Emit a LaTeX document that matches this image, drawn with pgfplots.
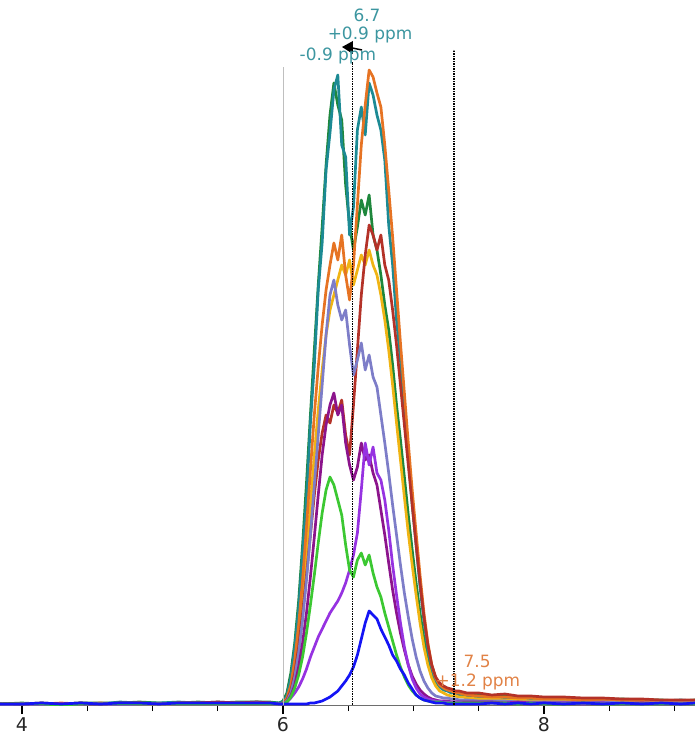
\documentclass[border=0pt]{standalone}
\usepackage{fontspec}
\setmainfont{DejaVu Sans}
\usepackage{pgfplots}
\pgfplotsset{compat=1.18}
\usepackage{pgfplotstable}
\usetikzlibrary{arrows.meta}

\definecolor{cteal}{RGB}{28,138,148}
\definecolor{cgreen}{RGB}{30,135,60}
\definecolor{corange}{RGB}{230,115,35}
\definecolor{cgold}{RGB}{240,180,20}
\definecolor{cred}{RGB}{180,50,40}
\definecolor{cslate}{RGB}{125,125,200}
\definecolor{cpurple}{RGB}{140,20,140}
\definecolor{cviolet}{RGB}{150,50,225}
\definecolor{clime}{RGB}{60,200,50}
\definecolor{cblue}{RGB}{20,20,245}
\definecolor{labteal}{RGB}{60,150,160}
\definecolor{laborange}{RGB}{225,130,70}
\definecolor{axisgray}{RGB}{110,110,110}

% heights in px above the baseline, one column per spectrum
\pgfplotstableread{
x     T   G   O   Y   R   S   P   V   L   B
3.831 1   1   1   0   1   0   1   0   1   1
4.0   1   2   1   1   1   1   0   1   1   1
4.15  2   1   1   0   2   1   1   0   1   2
4.3   1   1   2   1   1   0   1   1   0   1
4.45  2   2   1   1   2   1   1   1   1   2
4.6   1   2   2   1   1   1   0   1   1   1
4.75  3   2   1   1   2   1   1   0   1   2
4.9   2   3   2   1   2   1   1   1   1   2
5.05  2   2   1   0   1   1   1   1   1   1
5.2   3   2   2   1   2   1   1   1   1   2
5.35  2   3   2   1   2   1   1   1   1   2
5.5   3   2   2   1   3   1   1   1   1   2
5.65  2   3   2   1   2   1   1   1   1   2
5.8   3   3   2   1   3   2   1   1   1   2
5.9   2   3   2   1   2   1   1   1   1   2
5.97  2   2   1   1   1   1   1   1   1   1
6.00  3   4   2   1   1   1   1   1   1   1
6.03  9   12  7   5   5   4   3   3   3   1
6.06  27  32  20  15  14  12  9   7   8   1
6.09  58  62  45  35  32  28  20  12  17  1
6.12  96  104 80  65  58  52  38  18  30  1
6.15  152 160 125 105 92  85  62  26  48  1
6.18  205 222 178 150 130 125 92  36  72  1
6.21  282 290 235 200 170 170 128 48  100 2
6.24  340 355 290 250 210 220 168 58  130 2
6.27  415 420 338 295 245 270 210 68  162 3
6.30  462 478 380 335 272 320 250 76  192 4
6.33  535 540 415 370 290 370 280 84  215 6
6.36  572 590 440 395 282 410 300 92  228 8
6.39  615 622 462 410 300 425 312 98  220 11
6.42  630 600 445 425 292 400 290 104 205 14
6.45  560 585 470 440 305 385 300 112 190 19
6.48  548 520 430 430 270 395 262 122 160 24
6.51  470 480 405 445 250 360 240 135 135 30
6.54  498 455 440 420 300 330 225 150 128 38
6.57  575 478 500 435 355 345 238 172 145 50
6.60  598 505 560 450 410 362 262 215 152 66
6.63  570 490 600 440 450 335 245 262 140 82
6.66  622 510 635 455 480 350 250 240 150 94
6.69  610 470 628 440 470 328 232 258 132 90
6.72  590 455 612 430 455 318 220 232 118 86
6.75  575 430 598 410 470 290 195 225 108 76
6.78  545 400 560 385 440 262 170 205 92  68
6.81  480 375 515 355 425 232 142 175 78  60
6.84  440 340 468 320 395 200 115 140 64  50
6.87  385 300 415 282 360 170 92  110 50  44
6.90  345 265 362 245 320 140 72  82  38  36
6.93  290 228 312 208 280 112 55  58  28  30
6.96  248 190 262 172 240 88  40  40  20  22
6.99  200 155 215 140 200 66  29  26  14  16
7.02  160 122 172 110 160 48  21  17  10  10
7.05  118 92  130 82  122 34  15  11  7   7
7.08  84  66  92  58  88  24  11  8   5   5
7.11  55  46  62  40  60  17  8   6   4   4
7.14  36  32  40  27  40  12  6   5   3   3
7.17  24  24  27  19  28  9   5   4   3   2
7.20  18  19  20  14  22  8   4   4   3   2
7.23  15  16  17  12  19  7   4   3   2   2
7.26  14  15  15  10  17  7   4   3   2   1
7.29  12  13  14  9   16  6   3   3   2   1
7.32  13  12  12  9   14  6   3   3   2   1
7.35  10  12  12  8   14  5   3   3   2   1
7.38  11  10  11  8   13  5   3   2   2   1
7.41  9   10  10  7   12  5   3   2   2   1
7.5   8   10  9   6   12  4   3   2   2   1
7.6   9   8   8   6   10  4   3   2   2   2
7.7   7   9   8   5   11  4   2   2   2   1
7.8   8   7   7   5   9   3   3   2   1   2
7.9   6   8   7   4   9   3   2   2   2   1
8.0   7   6   6   5   8   3   2   1   1   2
8.15  6   7   6   4   8   3   2   2   1   1
8.3   5   6   5   4   7   2   2   1   2   2
8.45  6   5   5   3   7   3   2   2   1   1
8.6   4   6   5   3   6   2   1   1   1   2
8.75  5   5   4   3   6   2   2   1   1   1
8.9   4   5   4   3   5   2   1   1   1   2
9.05  5   4   4   2   5   2   1   1   1   1
9.157 4   5   3   2   5   2   1   1   1   2
}\spectra

\begin{document}
\begin{tikzpicture}
\begin{axis}[
  scale only axis,
  width=695bp, height=706bp,
  xmin=3.8314, xmax=9.157,
  ymin=-1, ymax=705,
  axis x line*=bottom,
  axis y line=none,
  x axis line style={draw=axisgray, line width=1bp},
  xtick={4,6,8},
  minor xtick={4.5,5,5.5,6.5,7,7.5,8.5,9},
  tick align=outside,
  major tick length=8bp,
  minor tick length=5bp,
  tick style={black, line width=1.2bp},
  xticklabel style={font=\fontsize{19}{19}\selectfont, text=black!85},
  /pgf/number format/assume math mode=true,
  every axis plot/.append style={line width=2.7bp, no markers, line join=round},
]
\addplot[cgreen] table[x=x, y=G] {\spectra};
\addplot[cteal] table[x=x, y=T] {\spectra};
\addplot[cgold] table[x=x, y=Y] {\spectra};
\addplot[corange] table[x=x, y=O] {\spectra};
\addplot[cred] table[x=x, y=R] {\spectra};
\addplot[cslate] table[x=x, y=S] {\spectra};
\addplot[cpurple] table[x=x, y=P] {\spectra};
\addplot[cviolet] table[x=x, y=V] {\spectra};
\addplot[clime] table[x=x, y=L] {\spectra};
\addplot[cblue] table[x=x, y=B] {\spectra};

% cursor lines
\draw[black!25, line width=0.8bp] (axis cs:6.0,0) -- (axis cs:6.0,638);
\draw[black, line width=1.1bp, dash pattern=on 1.5bp off 1bp] (axis cs:6.53,0) -- (axis cs:6.53,643);
\draw[black, line width=1.1bp, dash pattern=on 1.5bp off 1bp] (axis cs:7.31,0) -- (axis cs:7.31,655);
\fill[black] (axis cs:6.452,658) -- (axis cs:6.536,664) -- (axis cs:6.536,651) -- cycle;
\draw[black, line width=1.5bp] (axis cs:6.53,657) -- (axis cs:6.605,655);

% labels
\tikzset{lab/.style={inner sep=0pt, font=\fontsize{17}{17}\selectfont}}
\node[lab, text=labteal] at (axis cs:6.644,690) {6.7};
\node[lab, text=labteal] at (axis cs:6.667,670) {+0.9 ppm};
\node[lab, text=labteal] at (axis cs:6.421,649) {-0.9 ppm};
\node[lab, text=laborange] at (axis cs:7.487,44) {7.5};
\node[lab, text=laborange] at (axis cs:7.494,23) {+1.2 ppm};
\end{axis}
\pgfresetboundingbox
\path[use as bounding box] (current axis.south west) ++(0,-31bp) rectangle (current axis.north east);
\end{tikzpicture}
\end{document}
